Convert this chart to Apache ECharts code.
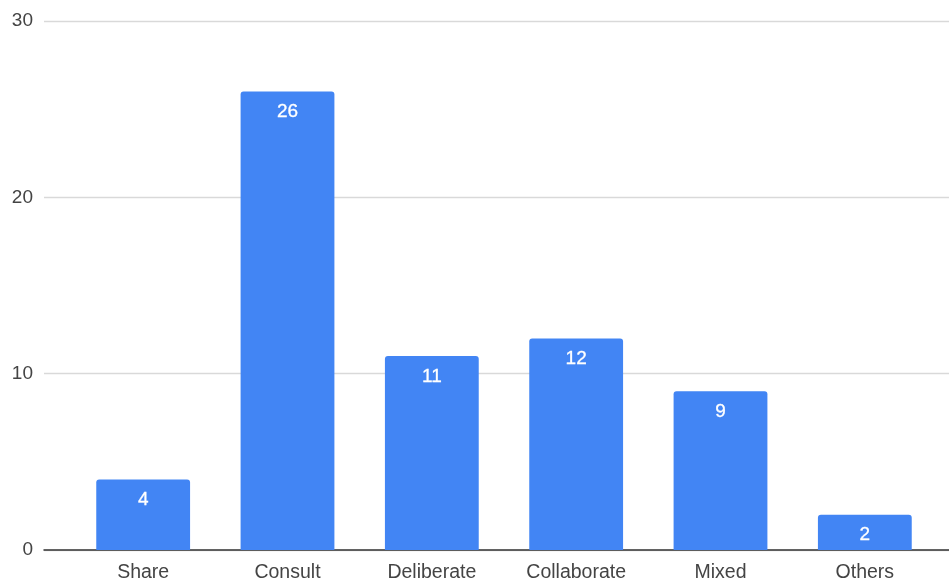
<!DOCTYPE html>
<html><head><meta charset="utf-8">
<script src="https://cdn.jsdelivr.net/npm/echarts@6/dist/echarts.min.js"></script>
<style>html,body{margin:0;padding:0;background:#fff}#c{width:949px;height:580px}</style>
</head><body><div id="c"></div>
<script>
const categories = ['Share','Consult','Deliberate','Collaborate','Mixed','Others'];
const values = [4, 26, 11, 12, 9, 2];
const yTicks = [0, 10, 20, 30];

const chart = echarts.init(document.getElementById('c'), null, {renderer:'canvas'});
const font = '"Liberation Sans", Arial, sans-serif';
chart.setOption({
  animation:false,
  backgroundColor:'#fff',
  grid:[
    {left:44, right:0, top:21, bottom:30, containLabel:false, outerBoundsMode:'none'},
    {left:71, right:12, top:21, bottom:30, containLabel:false, outerBoundsMode:'none'}
  ],
  xAxis:[
    {gridIndex:0, type:'value', min:0, max:1, axisLine:{show:true, lineStyle:{color:'#333', width:1.5}},
     axisTick:{show:false}, axisLabel:{show:false}, splitLine:{show:false}},
    {gridIndex:1, type:'category', data:categories, axisLine:{show:false}, axisTick:{show:false},
     axisLabel:{color:'#444', fontSize:19.5, fontFamily:font, margin:13}}
  ],
  yAxis:[
    {gridIndex:0, type:'value', min:yTicks[0], max:yTicks[yTicks.length-1], interval:10,
     axisLine:{show:false}, axisTick:{show:false},
     axisLabel:{color:'#444', fontSize:19, fontFamily:font, margin:11},
     splitLine:{lineStyle:{color:'#d9d9d9', width:1.3}}},
    {gridIndex:1, type:'value', min:0, max:30, show:false, splitLine:{show:false}}
  ],
  series:[{
    type:'bar', xAxisIndex:1, yAxisIndex:1, data:values, barCategoryGap:'35%',
    itemStyle:{color:'#4285f4', borderRadius:[3,3,0,0]},
    label:{show:true, position:'insideTop', distance:11, color:'#fff', fontSize:19, fontFamily:font,
           textBorderColor:'#fff', textBorderWidth:0.3}
  }]
});
</script></body></html>
